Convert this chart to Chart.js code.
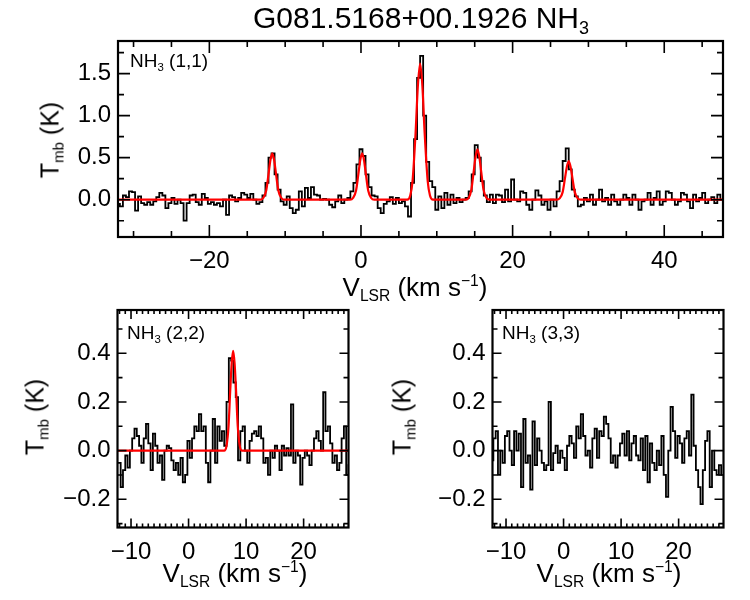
<!DOCTYPE html>
<html><head><meta charset="utf-8">
<script src="https://cdn.jsdelivr.net/npm/chart.js@4.4.0/dist/chart.umd.min.js"></script>
<style>
body{margin:0;width:750px;height:600px;background:#fff;position:relative;overflow:hidden;font-family:"Liberation Sans",Arial,Helvetica,sans-serif;}
canvas{position:absolute;left:0;top:0;}
.t{position:absolute;white-space:nowrap;color:#000;line-height:1;z-index:5;}
.sb{font-size:0.6em;position:relative;top:0.35em;}
.sp{font-size:0.6em;position:relative;top:-0.65em;}
.rot{transform:translate(-50%,-50%) rotate(-90deg);}
</style></head><body>
<canvas id="c11" width="750" height="600"></canvas>
<canvas id="c22" width="750" height="600"></canvas>
<canvas id="c33" width="750" height="600"></canvas>

<div class="t" style="left:421px;top:3px;font-size:30px;transform:translateX(-50%)">G081.5168+00.1926 NH<span class="sb">3</span></div>

<div class="t" style="left:130px;top:51px;font-size:19px">NH<span class="sb">3</span> (1,1)</div>
<div class="t" style="left:127px;top:323px;font-size:19px">NH<span class="sb">3</span> (2,2)</div>
<div class="t" style="left:502px;top:323px;font-size:19px">NH<span class="sb">3</span> (3,3)</div>

<div class="t" style="left:415px;top:274px;font-size:26px;transform:translateX(-50%)">V<span class="sb">LSR</span> (km s<span class="sp">−1</span>)</div>
<div class="t" style="left:235px;top:560px;font-size:26px;transform:translateX(-50%)">V<span class="sb">LSR</span> (km s<span class="sp">−1</span>)</div>
<div class="t" style="left:609px;top:560px;font-size:26px;transform:translateX(-50%)">V<span class="sb">LSR</span> (km s<span class="sp">−1</span>)</div>

<div class="t rot" style="left:50px;top:140px;font-size:25px">T<span class="sb">mb</span> (K)</div>
<div class="t rot" style="left:35px;top:417px;font-size:25px">T<span class="sb">mb</span> (K)</div>
<div class="t rot" style="left:402px;top:417px;font-size:25px">T<span class="sb">mb</span> (K)</div>

<script>
// ---------- NH3 (1,1) spectrum ----------
const V0_11 = -32.0, DV_11 = 0.4;
const T11 = [
 -0.05,-0.08,0.05,0.03,0.1,0.09,-0.13,0.04,-0.04,-0.06,
 -0.03,-0.06,-0.02,0.03,0.08,0.05,-0.1,-0.04,0.02,-0.05,
 0.0,-0.04,-0.25,-0.04,0.05,0.06,-0.03,-0.06,0.07,0.02,
 -0.05,-0.03,-0.06,-0.04,-0.08,0.0,-0.18,0.05,0.03,-0.02,
 0.02,0.08,0.06,0.02,0.07,0.0,-0.05,-0.03,0.05,0.2,
 0.5,0.55,0.3,0.12,-0.02,-0.06,0.04,-0.1,-0.16,-0.12,
 0.1,-0.08,0.14,0.02,0.15,0.06,0.05,0.0,0.01,0.0,
 -0.06,-0.09,-0.02,0.05,-0.04,0.0,0.02,0.1,0.2,0.42,
 0.6,0.52,0.3,0.15,0.05,0.04,-0.1,-0.16,-0.05,-0.02,
 0.03,-0.05,0.02,-0.04,-0.02,-0.08,-0.2,0.2,0.72,1.45,
 1.71,1.0,0.45,0.22,0.15,-0.12,0.04,-0.1,0.08,-0.06,
 0.06,-0.04,0.02,-0.03,0.0,0.02,0.1,0.3,0.65,0.5,
 0.22,0.05,-0.03,0.06,-0.04,0.06,0.05,-0.03,0.12,-0.02,
 0.24,0.0,-0.02,0.1,0.08,-0.06,-0.12,0.0,0.11,0.05,
 -0.06,-0.02,-0.12,0.0,-0.08,0.1,0.22,0.46,0.61,0.36,
 0.12,0.04,-0.08,
 -0.06,0.02,-0.02,0.06,-0.06,0.0,0.12,-0.02,0.02,-0.06,
 0.06,-0.02,-0.06,0.0,0.06,0.02,-0.06,0.06,0.0,-0.12,
 -0.02,0.0,0.08,-0.06,0.02,0.1,-0.06,-0.02,0.1,0.08,
 0.0,-0.06,-0.02,0.08,0.06,-0.02,-0.1,0.06,-0.02,0.02,
 0.08,-0.04,0.0,0.03,-0.04,0.06,0.0
];
// fitted model
const FIT11_V = [-32.1,-13.3,-12.9,-12.5,-12.2,-11.95,-11.7,-11.45,-11.2,-10.9,-10.5,-10.1,
  -1.45,-1.05,-0.65,-0.35,-0.1,0.15,0.4,0.65,0.95,1.35,1.75,
  6.1,6.5,6.8,7.2,7.5,7.8,8.1,8.4,8.8,9.1,9.5,
  13.8,14.2,14.56,14.86,15.11,15.36,15.61,15.86,16.16,16.56,16.96,
  25.8,26.2,26.6,26.9,27.15,27.4,27.65,27.9,28.2,28.6,29.0,47.9];
const FIT11_T = [0,0,0.02,0.11,0.3,0.47,0.55,0.47,0.3,0.11,0.02,0,
  0,0.02,0.11,0.3,0.47,0.55,0.47,0.3,0.11,0.02,0,
  0,0.05,0.22,0.79,1.35,1.62,1.35,0.79,0.22,0.05,0,
  0,0.02,0.12,0.33,0.51,0.6,0.51,0.33,0.12,0.02,0,
  0,0.015,0.09,0.25,0.39,0.46,0.39,0.25,0.09,0.015,0,0];

// ---------- NH3 (2,2) spectrum ----------
const V0_22 = -12.4, DV_22 = 0.4;
const T22 = [
 -0.05,-0.05,-0.15,-0.08,-0.02,-0.07,0.0,0.05,0.09,0.06,
 0.02,-0.05,0.05,0.11,0.03,-0.08,0.07,0.02,-0.05,-0.02,
 -0.12,0.0,0.02,0.01,-0.04,-0.08,-0.05,-0.1,-0.03,-0.13,
 -0.1,0.04,-0.03,0.05,0.1,0.08,0.15,0.08,0.1,-0.05,
 -0.13,0.0,0.13,-0.05,0.1,0.04,0.08,0.02,0.2,0.38,
 0.37,0.28,0.22,-0.04,0.08,0.1,0.0,-0.05,0.04,0.07,
 0.08,0.06,0.1,0.05,-0.05,-0.03,-0.1,0.0,-0.03,0.02,
 0.0,-0.08,0.02,-0.02,0.01,-0.02,0.19,-0.05,0.0,-0.02,
 -0.14,-0.03,0.0,-0.02,-0.06,0.0,0.05,0.08,0.04,0.0,
 0.24,0.08,0.1,0.03,-0.05,-0.02,-0.08,-0.05,0.05,0.1,
 -0.1,-0.06
];
const FIT22_V = [-12.6,6.2,6.6,6.95,7.25,7.5,7.75,8.0,8.25,8.55,8.9,9.3,28.0];
const FIT22_T = [0,0,0.02,0.1,0.25,0.36,0.41,0.36,0.25,0.1,0.02,0,0];

// ---------- NH3 (3,3) spectrum ----------
const V0_33 = -12.4, DV_33 = 0.4;
const T33 = [
 -0.04,0.05,0.08,-0.1,0.0,-0.05,0.06,0.08,0.0,-0.06,
 0.08,0.0,0.07,-0.15,0.13,-0.05,-0.02,-0.16,0.12,-0.06,
 0.05,0.0,-0.05,-0.08,-0.06,0.2,-0.08,-0.01,0.02,-0.05,
 0.0,-0.03,-0.08,0.02,0.06,0.03,-0.03,0.1,0.05,0.15,
 0.06,-0.02,0.0,-0.07,0.05,0.09,-0.03,0.08,0.06,0.14,
 0.11,0.05,-0.05,-0.02,-0.07,-0.02,0.03,0.07,-0.02,0.08,
 -0.04,0.03,0.06,-0.02,-0.04,0.05,-0.08,0.06,-0.13,0.03,
 -0.05,-0.08,0.0,-0.06,0.06,-0.1,-0.19,0.0,0.18,0.08,
 -0.03,0.06,0.03,-0.05,0.05,0.08,-0.02,0.23,0.02,-0.08,
 -0.15,-0.22,-0.08,0.04,0.08,-0.15,0.0,-0.08,-0.1,-0.06,
 -0.1
];

// ---------- axes ----------
const X_RANGE_TOP = [-32.05, 47.75], Y_RANGE_TOP = [-0.444, 1.888];
const X_RANGE_BOT = [-12.35, 27.8],  Y_RANGE_BOT = [-0.316, 0.578];
const X_TICKS_TOP = [-20, 0, 20, 40];
const X_MINOR_TOP = [-30,-25,-15,-10,-5,5,10,15,25,30,35,45];
const Y_TICKS_TOP = [0, 0.5, 1.0, 1.5];
const Y_MINOR_TOP = [-0.25, 0.25, 0.75, 1.25, 1.75];
const X_TICKS_BOT = [-10, 0, 10, 20];
const X_MINOR_BOT = [-12,-11,-9,-8,-7,-6,-5,-4,-3,-2,-1,1,2,3,4,5,6,7,8,9,11,12,13,14,15,16,17,18,19,21,22,23,24,25,26,27];
const Y_TICKS_BOT = [-0.2, 0, 0.2, 0.4];
const Y_MINOR_BOT = [-0.3, -0.1, 0.1, 0.3, 0.5];

const FONT = '"Liberation Sans", Arial, Helvetica, sans-serif';

function spectrumPoints(v0, dv, arr){ return arr.map((t,i)=>({x: v0 + dv*i, y: t})); }
function pairPoints(vs, ts){ return vs.map((v,i)=>({x: v, y: ts[i]})); }
function fmt(v, d){ const s = Math.abs(v).toFixed(d); return (v < -1e-9 ? '\u2212' : '') + s; }

const framePlugin = {
  id: 'frame',
  afterDatasetsDraw(chart){
    const o = chart.config.options.plugins.frame;
    const {ctx, chartArea: a} = chart;
    const xs = chart.scales.x, ys = chart.scales.y;
    ctx.save();
    ctx.strokeStyle = '#000';
    ctx.lineWidth = 1.6;
    const tick = (vals, len, isX) => {
      vals.forEach(v => {
        ctx.beginPath();
        if (isX) {
          const p = xs.getPixelForValue(v);
          ctx.moveTo(p, a.bottom); ctx.lineTo(p, a.bottom - len);
          ctx.moveTo(p, a.top); ctx.lineTo(p, a.top + len);
        } else {
          const p = ys.getPixelForValue(v);
          ctx.moveTo(a.left, p); ctx.lineTo(a.left + len, p);
          ctx.moveTo(a.right, p); ctx.lineTo(a.right - len, p);
        }
        ctx.stroke();
      });
    };
    tick(o.xMajor, o.majLen, true);
    tick(o.xMinor, o.xMinLen, true);
    tick(o.yMajor, o.majLen, false);
    tick(o.yMinor, o.minLen, false);
    ctx.lineWidth = 2.2;
    ctx.strokeRect(a.left, a.top, a.right - a.left, a.bottom - a.top);
    ctx.restore();
  }
};

function panel(id, box, xr, yr, xt, xm, yt, ym, yDigits, lens, datasets){
  const YW = 80, XH = 50;
  new Chart(document.getElementById(id), {
    type: 'line',
    data: { datasets },
    plugins: [framePlugin],
    options: {
      responsive: false, animation: false, events: [],
      layout: { padding: { left: box.l - YW, right: 750 - box.r, top: box.t, bottom: 600 - box.b - XH } },
      plugins: {
        legend: { display: false }, tooltip: { enabled: false }, title: { display: false },
        frame: { xMajor: xt, xMinor: xm, yMajor: yt, yMinor: ym, majLen: lens[0], minLen: lens[1], xMinLen: lens[2] }
      },
      scales: {
        x: {
          type: 'linear', min: xr[0], max: xr[1],
          grid: { display: false, drawTicks: false }, border: { display: false },
          afterBuildTicks: s => { s.ticks = xt.map(v => ({ value: v })); },
          afterFit: s => { s.height = XH; },
          ticks: { autoSkip: false, maxRotation: 0, padding: 10, color: '#000',
                   font: { size: 24, family: FONT }, callback: v => fmt(v, 0) }
        },
        y: {
          type: 'linear', min: yr[0], max: yr[1],
          grid: { display: false, drawTicks: false }, border: { display: false },
          afterBuildTicks: s => { s.ticks = yt.map(v => ({ value: v })); },
          afterFit: s => { s.width = YW; },
          ticks: { autoSkip: false, padding: 7, color: '#000',
                   font: { size: 24, family: FONT }, callback: v => fmt(v, yDigits) }
        }
      }
    }
  });
}

const specStyle = { borderColor: '#000', borderWidth: 1.8, pointRadius: 0, stepped: 'middle', fill: false, clip: 0 };
const fitStyle  = { borderColor: '#ff0000', borderWidth: 2.2, pointRadius: 0, cubicInterpolationMode: 'monotone', fill: false, clip: 0 };

panel('c11', {l:118, r:723, t:41, b:237}, X_RANGE_TOP, Y_RANGE_TOP,
  X_TICKS_TOP, X_MINOR_TOP, Y_TICKS_TOP, Y_MINOR_TOP, 1, [12, 6, 6], [
    Object.assign({ data: pairPoints(FIT11_V, FIT11_T) }, fitStyle),
    Object.assign({ data: spectrumPoints(V0_11, DV_11, T11) }, specStyle)
  ]);

panel('c22', {l:117.5, r:348.5, t:310, b:527.5}, X_RANGE_BOT, Y_RANGE_BOT,
  X_TICKS_BOT, X_MINOR_BOT, Y_TICKS_BOT, Y_MINOR_BOT, 1, [9, 5, 4], [
    Object.assign({ data: pairPoints(FIT22_V, FIT22_T) }, fitStyle),
    Object.assign({ data: spectrumPoints(V0_22, DV_22, T22) }, specStyle)
  ]);

panel('c33', {l:492.5, r:723.5, t:310, b:527.5}, X_RANGE_BOT, Y_RANGE_BOT,
  X_TICKS_BOT, X_MINOR_BOT, Y_TICKS_BOT, Y_MINOR_BOT, 1, [9, 5, 4], [
    Object.assign({ data: spectrumPoints(V0_33, DV_33, T33) }, specStyle)
  ]);
</script>
</body></html>
